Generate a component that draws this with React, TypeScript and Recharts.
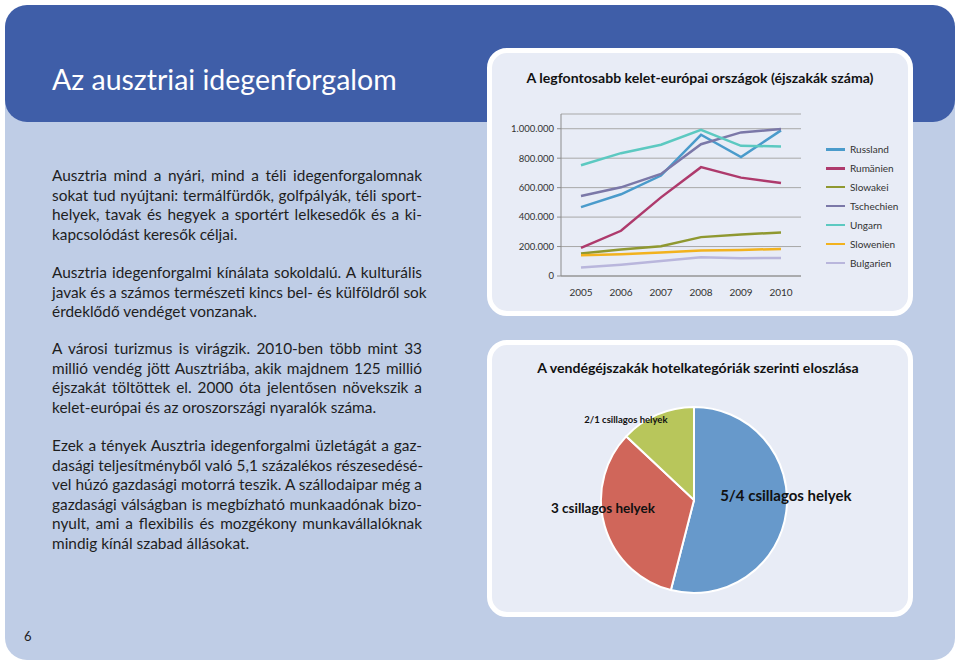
import React from "react";
import {
  LineChart,
  Line,
  XAxis,
  YAxis,
  CartesianGrid,
  Legend,
  PieChart,
  Pie,
  Cell,
} from "recharts";

// line chart: nights per country
const years = ["2005", "2006", "2007", "2008", "2009", "2010"];
const russland = [468000, 555000, 682000, 959000, 807000, 989000];
const rumaenien = [191000, 307000, 534000, 739000, 668000, 632000];
const slowakei = [152000, 180000, 202000, 264000, 282000, 295000];
const tschechien = [543000, 602000, 693000, 895000, 975000, 998000];
const ungarn = [752000, 834000, 891000, 993000, 884000, 880000];
const slowenien = [141000, 148000, 159000, 173000, 177000, 184000];
const bulgarien = [57000, 77000, 102000, 127000, 120000, 123000];
const yTicks = [0, 200000, 400000, 600000, 800000, 1000000];

// pie chart: nights per hotel category
const pieNames = ["5/4 csillagos helyek", "3 csillagos helyek", "2/1 csillagos helyek"];
const pieValues = [54, 33, 13];

const series = [
  { key: "Russland", values: russland, color: "#4A9BCB" },
  { key: "Rumänien", values: rumaenien, color: "#AE3A6C" },
  { key: "Slowakei", values: slowakei, color: "#8F9830" },
  { key: "Tschechien", values: tschechien, color: "#7B78A8" },
  { key: "Ungarn", values: ungarn, color: "#5CC9C1" },
  { key: "Slowenien", values: slowenien, color: "#F2B21E" },
  { key: "Bulgarien", values: bulgarien, color: "#B9B6DC" },
];

const lineData = years.map((year, i) => {
  const row: Record<string, string | number> = { year };
  series.forEach((s) => (row[s.key] = s.values[i]));
  return row;
});

const pieColors = ["#6799CB", "#D0665A", "#B8C65B"];
const pieLabelStyle = [
  { r: 1.06, dx: -6, dy: -17, size: 15 },
  { r: 0.93, dx: -8, dy: -16, size: 13.5 },
  { r: 0.95, dx: -33, dy: 1, size: 9.5 },
];
const pieData = pieNames.map((name, i) => ({ name, value: pieValues[i] }));

const paragraphs = [
  [
    "Ausztria mind a nyári, mind a téli idegenforgalomnak",
    "sokat tud nyújtani: termálfürdők, golfpályák, téli sport-",
    "helyek, tavak és hegyek a sportért lelkesedők és a ki-",
    "kapcsolódást keresők céljai.",
  ],
  [
    "Ausztria idegenforgalmi kínálata sokoldalú. A kulturális",
    "javak és a számos természeti kincs bel- és külföldről sok",
    "érdeklődő vendéget vonzanak.",
  ],
  [
    "A városi turizmus is virágzik. 2010-ben több mint 33",
    "millió vendég jött Ausztriába, akik majdnem 125 millió",
    "éjszakát töltöttek el. 2000 óta jelentősen növekszik a",
    "kelet-európai és az oroszországi nyaralók száma.",
  ],
  [
    "Ezek a tények Ausztria idegenforgalmi üzletágát a gaz-",
    "dasági teljesítményből való 5,1 százalékos részesedésé-",
    "vel húzó gazdasági motorrá teszik. A szállodaipar még a",
    "gazdasági válságban is megbízható munkaadónak bizo-",
    "nyult, ami a flexibilis és mozgékony munkavállalóknak",
    "mindig kínál szabad állásokat.",
  ],
];
const paragraphTops = [166, 263, 339, 436];

const FONT = "Lato, 'Open Sans', sans-serif";

const fmt = (v: number) =>
  String(v).replace(/\B(?=(\d{3})+(?!\d))/g, ".");

const RADIAN = Math.PI / 180;
const renderPieLabel = (props: any) => {
  const { cx, cy, midAngle, outerRadius, index, name } = props;
  const st = pieLabelStyle[index];
  const r = outerRadius * st.r;
  const x = cx + r * Math.cos(-midAngle * RADIAN) + st.dx;
  const y = cy + r * Math.sin(-midAngle * RADIAN) + st.dy;
  return (
    <text
      x={x}
      y={y}
      textAnchor="middle"
      dominantBaseline="central"
      fontSize={st.size}
      fontWeight="bold"
      fill="#111"
      fontFamily={FONT}
    >
      {name}
    </text>
  );
};

// legend keeps the series order of the source chart
const LegendList = () => (
  <div style={{ fontFamily: FONT, fontSize: 10, color: "#333" }}>
    {series.map((s) => (
      <div key={s.key} style={{ display: "flex", alignItems: "center", height: 18.9 }}>
        <span style={{ width: 19, height: 2.5, background: s.color, marginRight: 5 }} />
        <span>{s.key}</span>
      </div>
    ))}
  </div>
);

const card: React.CSSProperties = {
  position: "absolute",
  left: 487,
  width: 416,
  background: "#E8ECF6",
  border: "5px solid #fff",
  borderRadius: 20,
};

export default function App() {
  return (
    <div
      style={{
        position: "absolute",
        left: 0,
        top: 0,
        width: 960,
        height: 664,
        background: "#fff",
        overflow: "hidden",
        fontFamily: FONT,
      }}
    >
      <div style={{ position: "absolute", left: 5, top: 80, width: 950, height: 580, background: "#BFCDE6", borderRadius: 22 }} />
      <div style={{ position: "absolute", left: 5, top: 5, width: 950, height: 117, background: "#3F5EA8", borderRadius: 22 }} />
      <div style={{ position: "absolute", left: 52, top: 60, fontSize: 28.5, color: "#fff", lineHeight: "38px" }}>
        Az ausztriai idegenforgalom
      </div>

      {paragraphs.map((lines, p) => (
        <div key={p} style={{ position: "absolute", left: 52, top: paragraphTops[p], width: 370, fontSize: 15.4, lineHeight: "19.6px", color: "#1e1e1e" }}>
          {lines.map((l, i) => (
            <div
              key={i}
              style={{ textAlign: "justify", textAlignLast: i < lines.length - 1 ? "justify" : "left", whiteSpace: "nowrap" }}
            >
              {l}
            </div>
          ))}
        </div>
      ))}

      <div style={{ position: "absolute", left: 24, top: 628, fontSize: 13, color: "#222" }}>6</div>

      {/* line chart card */}
      <div style={{ ...card, top: 48, height: 258 }} />
      <div style={{ position: "absolute", left: 487, top: 69, width: 426, textAlign: "center", fontSize: 14.1, fontWeight: "bold", color: "#111" }}>
        A legfontosabb kelet-európai országok (éjszakák száma)
      </div>
      <div style={{ position: "absolute", left: 490, top: 110 }}>
        <LineChart width={420} height={200} data={lineData} margin={{ top: 4, right: 109, bottom: 4, left: 0 }}>
          <CartesianGrid vertical={false} stroke="#A8A8A8" />
          <XAxis
            dataKey="year"
            height={30}
            padding={{ left: 20, right: 20 }}
            tickLine={false}
            axisLine={{ stroke: "#8c8c8c" }}
            tickMargin={7}
            tick={{ fontSize: 10, fill: "#333", fontFamily: FONT }}
          />
          <YAxis
            width={71}
            domain={[0, 1100000]}
            ticks={yTicks}
            tickFormatter={fmt}
            axisLine={{ stroke: "#8c8c8c" }}
            tickLine={{ stroke: "#8c8c8c" }}
            tickSize={4}
            tickMargin={3}
            tick={{ fontSize: 9.5, fill: "#333", fontFamily: FONT }}
          />
          <Legend
            layout="horizontal"
            align="center"
            verticalAlign="middle"
            content={LegendList}
            wrapperStyle={{ position: "absolute", left: 336, top: 30, width: 90, height: 140 }}
          />
          {series.map((s) => (
            <Line
              key={s.key}
              dataKey={s.key}
              stroke={s.color}
              strokeWidth={2.5}
              dot={false}
              type="linear"
              isAnimationActive={false}
            />
          ))}
        </LineChart>
      </div>

      {/* pie chart card */}
      <div style={{ ...card, top: 340, height: 267 }} />
      <div style={{ position: "absolute", left: 487, top: 359, width: 422, textAlign: "center", fontSize: 14.1, fontWeight: "bold", color: "#111" }}>
        A vendégéjszakák hotelkategóriák szerinti eloszlása
      </div>
      <div style={{ position: "absolute", left: 488, top: 340 }}>
        <PieChart width={424} height={270}>
          <Pie
            data={pieData}
            dataKey="value"
            nameKey="name"
            cx={201}
            cy={155}
            outerRadius={93}
            startAngle={90}
            endAngle={-270}
            stroke="#fff"
            strokeWidth={2}
            label={renderPieLabel}
            labelLine={false}
            isAnimationActive={false}
          >
            {pieData.map((d, i) => (
              <Cell key={d.name} fill={pieColors[i]} />
            ))}
          </Pie>
        </PieChart>
      </div>
    </div>
  );
}
